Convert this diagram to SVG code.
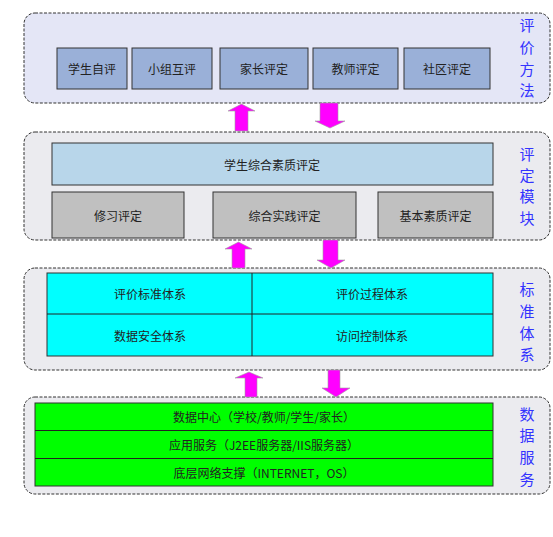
<svg xmlns="http://www.w3.org/2000/svg" width="553" height="537" viewBox="0 0 553 537">
<style>
.panel{stroke:#333;stroke-width:1;stroke-dasharray:3 1.5}
.p1{fill:#e4e6f6}
.p2{fill:#ebebef}
.box{stroke:#333;stroke-width:1}
.t{font-family:"Noto Sans CJK SC","Noto Sans",sans-serif;font-size:12px;fill:#222;text-anchor:middle;dominant-baseline:central}
.side{font-family:"Noto Sans CJK SC","Noto Sans",sans-serif;font-size:15px;fill:#3333ff;text-anchor:middle;dominant-baseline:central}
.arr{fill:#ff00ff;stroke:#a0a0a0;stroke-width:0.6}
</style>
<rect width="553" height="537" fill="#fff"/>
<g id="panel-method">
<rect class="panel p1" x="24" y="13" width="526" height="90" rx="11"/>
<rect class="box" x="57" y="48" width="70" height="41" fill="#9ab0d8"/>
<text class="t" x="92" y="68.5">学生自评</text>
<rect class="box" x="132" y="48" width="80" height="41" fill="#9ab0d8"/>
<text class="t" x="172" y="68.5">小组互评</text>
<rect class="box" x="220" y="48" width="88" height="41" fill="#9ab0d8"/>
<text class="t" x="264" y="68.5">家长评定</text>
<rect class="box" x="313" y="48" width="85" height="41" fill="#9ab0d8"/>
<text class="t" x="355.5" y="68.5">教师评定</text>
<rect class="box" x="404" y="48" width="86" height="41" fill="#9ab0d8"/>
<text class="t" x="447" y="68.5">社区评定</text>
<text class="side" x="527" y="24">评</text>
<text class="side" x="527" y="46">价</text>
<text class="side" x="527" y="68">方</text>
<text class="side" x="527" y="89">法</text>
</g>
<g id="panel-module">
<rect class="panel p2" x="24" y="132" width="526" height="108" rx="11"/>
<rect class="box" x="52" y="143" width="441" height="42" fill="#b8d6ea"/>
<text class="t" x="272" y="164">学生综合素质评定</text>
<rect class="box" x="52" y="192" width="132" height="46" fill="#c0c0c0"/>
<text class="t" x="118" y="215">修习评定</text>
<rect class="box" x="213" y="192" width="143" height="46" fill="#c0c0c0"/>
<text class="t" x="284.5" y="215">综合实践评定</text>
<rect class="box" x="378" y="192" width="115" height="46" fill="#c0c0c0"/>
<text class="t" x="435.5" y="215">基本素质评定</text>
<text class="side" x="527" y="153">评</text>
<text class="side" x="527" y="174">定</text>
<text class="side" x="527" y="195">模</text>
<text class="side" x="527" y="217">块</text>
</g>
<g id="panel-standard">
<rect class="panel p2" x="24" y="268" width="526" height="102" rx="11"/>
<rect class="box" x="47" y="273" width="446" height="83" fill="#00ffff"/>
<line x1="47" y1="314" x2="493" y2="314" stroke="#222"/>
<line x1="252" y1="273" x2="252" y2="356" stroke="#222"/>
<text class="t" x="150" y="293.5">评价标准体系</text>
<text class="t" x="372" y="293.5">评价过程体系</text>
<text class="t" x="150" y="335">数据安全体系</text>
<text class="t" x="372" y="335">访问控制体系</text>
<text class="side" x="527" y="288">标</text>
<text class="side" x="527" y="310">准</text>
<text class="side" x="527" y="332">体</text>
<text class="side" x="527" y="353">系</text>
</g>
<g id="panel-data">
<rect class="panel p2" x="24" y="397" width="526" height="97" rx="11"/>
<rect class="box" x="35" y="403" width="458" height="83" fill="#00ff00"/>
<line x1="35" y1="430.5" x2="493" y2="430.5" stroke="#222"/>
<line x1="35" y1="458.5" x2="493" y2="458.5" stroke="#222"/>
<text class="t" x="264" y="416.5">数据中心（学校/教师/学生/家长）</text>
<text class="t" x="264" y="444">应用服务（J2EE服务器/IIS服务器）</text>
<text class="t" x="264" y="472">底层网络支撑（INTERNET，OS）</text>
<text class="side" x="527" y="413">数</text>
<text class="side" x="527" y="434">据</text>
<text class="side" x="527" y="456">服</text>
<text class="side" x="527" y="478">务</text>
</g>
<g id="connectors">
<path class="arr" d="M241.5,104 L255,111 L248,111 L248,131 L235,131 L235,111 L228,111 Z"/>
<path class="arr" d="M320,103 L338,103 L338,121 L345,121 L330,128 L315,121 L320,121 Z"/>
<path class="arr" d="M238.5,242 L252,249 L245,249 L245,268 L232,268 L232,249 L225,249 Z"/>
<path class="arr" d="M323,240 L338,240 L338,260 L345,260 L331,268 L317,260 L323,260 Z"/>
<path class="arr" d="M249,372 L263,378 L257,378 L257,397 L245,397 L245,378 L235,378 Z"/>
<path class="arr" d="M328,370 L340,370 L340,388 L350,388 L336,397 L322,388 L328,388 Z"/>
</g>
</svg>
